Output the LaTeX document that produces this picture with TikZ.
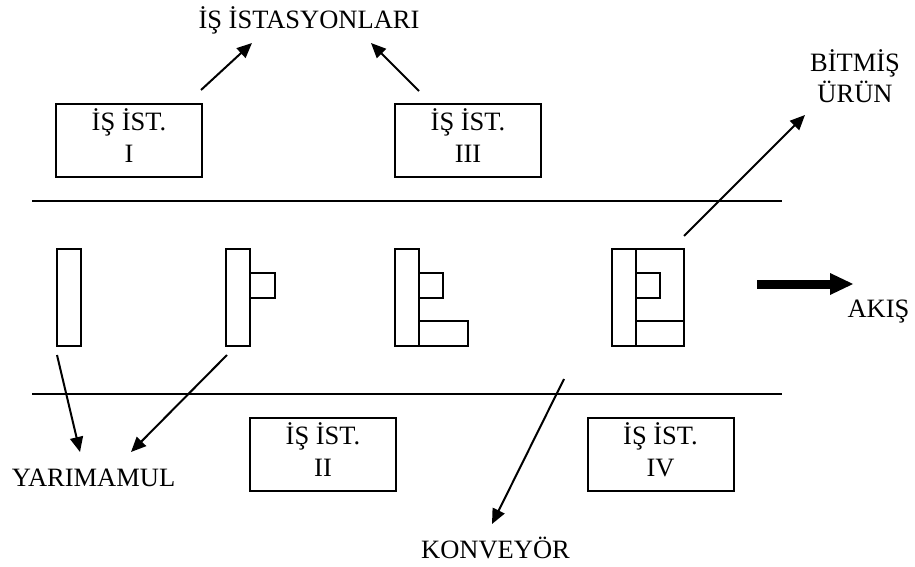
\documentclass[tikz,border=0pt]{standalone}
\usepackage{fontspec}
\setmainfont{Liberation Serif}
\usetikzlibrary{positioning, arrows.meta}

\begin{document}
\begin{tikzpicture}[
    x=0.5pt, y=-0.5pt,
    font=\fontsize{13.25}{15.8}\selectfont,
    station/.style={
        draw,
        line width=1pt,
        minimum width=73pt,
        minimum height=36.5pt,
        align=center,
        inner sep=0pt
    },
    txt/.style={inner sep=0pt, anchor=base},
    part/.style={draw, line width=1pt},
    belt/.style={line width=1pt},
    arrow/.style={-{Triangle[length=7.5pt,width=6.5pt]}, line width=1pt},
    flow/.style={-{Triangle[length=11.5pt,width=11pt,line width=0pt]}, line width=4.5pt}
]
\useasboundingbox (0,0) rectangle (915,567);

% work stations
\node[station] (s1) at (129,140.5) {İŞ İST.\\I\strut};
\node[station] (s3) at (468,140.5) {İŞ İST.\\III\strut};
\node[station] (s2) at (323,454.5) {İŞ İST.\\II\strut};
\node[station] (s4) at (660.5,454.5) {İŞ İST.\\IV\strut};

% labels
\node[txt] (title) at (309,28.3) {İŞ İSTASYONLARI};
\node[align=center, inner sep=0pt] (done) at (855,76) {BİTMİŞ\\ÜRÜN};
\node[txt] (flowtxt) at (878.5,317.3) {AKIŞ};
\node[txt] (semi) at (93.5,486.7) {YARIMAMUL};
\node[txt] (conv) at (495.5,558) {KONVEYÖR};

% conveyor
\coordinate (beltA1) at (32,201);
\coordinate (beltA2) at (782,201);
\coordinate (beltB1) at (32,394);
\coordinate (beltB2) at (782,394);
\draw[belt] (beltA1) -- (beltA2);
\draw[belt] (beltB1) -- (beltB2);

% parts on the belt
\draw[part] (57,249) rectangle (81,346);

\draw[part] (226,249) rectangle (250,346);
\draw[part] (250,273) rectangle (274.5,297.5);

\draw[part] (395,249) rectangle (419,346);
\draw[part] (419,273) rectangle (443,297.5);
\draw[part] (419,321) rectangle (467.5,346);

\draw[part] (612,249) rectangle (636,346);
\draw[part] (636,249) rectangle (684,346);
\draw[part] (636,273) rectangle (660,297.5);
\draw[part] (636,321) -- (684,321);

% pointers
\coordinate (p1) at (201,90);   \coordinate (q1) at (252,43);
\coordinate (p3) at (419,91);   \coordinate (q3) at (371,43);
\coordinate (p4) at (684,236);  \coordinate (q4) at (805,115);
\coordinate (pa) at (57,355);   \coordinate (qa) at (80,452);
\coordinate (pb) at (227,355);  \coordinate (qb) at (131,452);
\coordinate (pc) at (564,379);  \coordinate (qc) at (492,524);
\coordinate (f1) at (757,284);  \coordinate (f2) at (853,284);

\draw[arrow] (p1) -- (q1);
\draw[arrow] (p3) -- (q3);
\draw[arrow] (p4) -- (q4);
\draw[arrow] (pa) -- (qa);
\draw[arrow] (pb) -- (qb);
\draw[arrow] (pc) -- (qc);
\draw[flow] (f1) -- (f2);

\end{tikzpicture}
\end{document}
